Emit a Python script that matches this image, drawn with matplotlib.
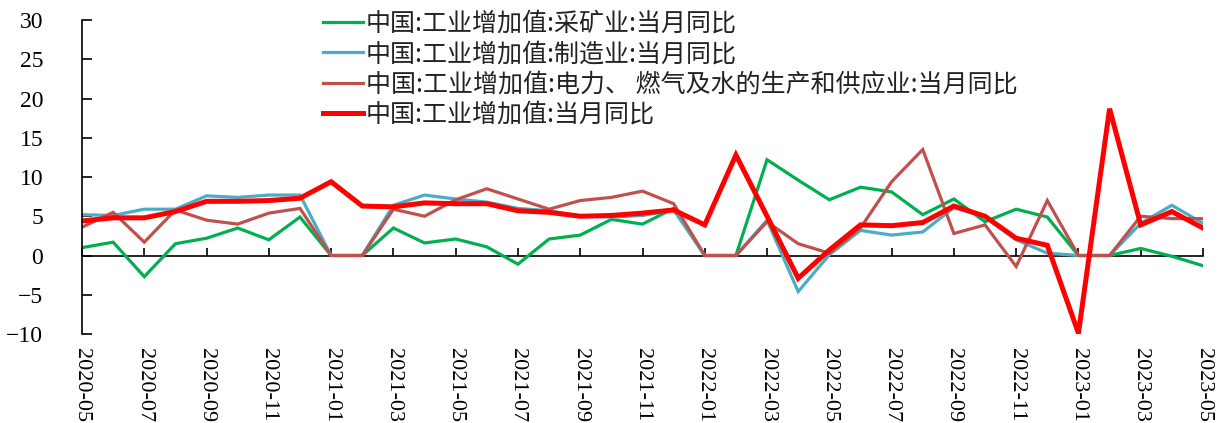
import matplotlib
matplotlib.use("Agg")
import matplotlib.pyplot as plt

months = ["2020-05", "2020-06", "2020-07", "2020-08", "2020-09", "2020-10", "2020-11", "2020-12",
          "2021-01", "2021-02", "2021-03", "2021-04", "2021-05", "2021-06", "2021-07", "2021-08",
          "2021-09", "2021-10", "2021-11", "2021-12", "2022-01", "2022-02", "2022-03", "2022-04",
          "2022-05", "2022-06", "2022-07", "2022-08", "2022-09", "2022-10", "2022-11", "2022-12",
          "2023-01", "2023-02", "2023-03", "2023-04", "2023-05"]

mining = [1.0, 1.7, -2.7, 1.5, 2.2, 3.5, 2.0, 4.9, 0.0, 0.0, 3.5, 1.6, 2.1, 1.1, -1.1, 2.1,
          2.6, 4.6, 4.0, 6.0, 0.0, 0.0, 12.2, 9.6, 7.1, 8.7, 8.1, 5.2, 7.2, 4.3, 5.9, 4.9,
          0.0, 0.0, 0.9, -0.1, -1.3]
manufacturing = [5.2, 5.1, 5.9, 5.9, 7.6, 7.4, 7.7, 7.7, 0.0, 0.0, 6.4, 7.7, 7.2, 6.8, 6.0, 5.7,
                 5.0, 4.9, 5.1, 5.8, 0.0, 0.0, 4.5, -4.6, 0.1, 3.2, 2.6, 3.0, 6.1, 4.9, 2.0, 0.3,
                 0.0, 0.0, 4.1, 6.4, 4.1]
utilities = [3.6, 5.5, 1.7, 5.8, 4.5, 4.0, 5.4, 6.0, 0.0, 0.0, 5.9, 5.0, 7.1, 8.5, 7.2, 5.9,
             7.0, 7.4, 8.2, 6.6, 0.0, 0.0, 4.3, 1.5, 0.3, 3.5, 9.4, 13.5, 2.8, 3.9, -1.4, 7.0,
             0.0, 0.0, 5.0, 4.7, 4.7]
total = [4.4, 4.8, 4.8, 5.6, 6.9, 6.9, 7.0, 7.3, 9.4, 6.3, 6.2, 6.7, 6.6, 6.6, 5.7, 5.5,
         5.0, 5.1, 5.4, 5.8, 3.9, 12.8, 5.0, -2.9, 0.7, 3.9, 3.8, 4.2, 6.3, 5.0, 2.2, 1.3,
         -9.9, 18.7, 3.9, 5.6, 3.5]

labels = ["中国:工业增加值:采矿业:当月同比",
          "中国:工业增加值:制造业:当月同比",
          "中国:工业增加值:电力、 燃气及水的生产和供应业:当月同比",
          "中国:工业增加值:当月同比"]
colors = ["#00B050", "#4BACC6", "#C0504D", "#FF0000"]
widths = [2.3, 2.3, 2.3, 3.6]

fig = plt.figure(figsize=(12.22, 4.23), dpi=100)
ax = fig.add_axes([82 / 1222, 1 - 334 / 423, (1203 - 82) / 1222, (334 - 20) / 423])

x = list(range(len(months)))
for series, lab, c, w in zip([mining, manufacturing, utilities, total], labels, colors, widths):
    ax.plot(x, series, color=c, lw=w, label=lab, solid_joinstyle="miter")

ax.set_xlim(0, len(months) - 1)
ax.set_ylim(-10, 30)
ax.set_yticks(range(-10, 31, 5))

serif = "Liberation Serif"
ax.tick_params(axis="y", direction="in", length=7, width=1.2, pad=28, labelsize=17)
for t in ax.get_yticklabels():
    t.set_fontfamily(serif)

ticks = x[::2]
ax.set_xticks(ticks)
ax.set_xticklabels([months[i] for i in ticks], rotation=-90, fontsize=16, fontfamily=serif)
ax.tick_params(axis="x", length=0, pad=10)

for s in ["top", "right", "bottom"]:
    ax.spines[s].set_visible(False)
ax.spines["left"].set_linewidth(1.2)

sec = ax.secondary_xaxis(0.25)
sec.set_xticks(ticks)
sec.set_xticklabels([])
sec.tick_params(axis="x", direction="in", length=6, width=1.2)
sec.spines["bottom"].set_linewidth(1.2)
for s in ["top", "left", "right"]:
    if s in sec.spines:
        sec.spines[s].set_visible(False)

leg = ax.legend(loc="upper left", bbox_to_anchor=(323 / 1222, 1 - 11 / 423),
                bbox_transform=fig.transFigure, frameon=False,
                prop={"family": ["Noto Sans CJK SC", "DejaVu Sans"], "size": 18},
                handlelength=1.6, handletextpad=0.12, labelspacing=0.17,
                borderpad=0, borderaxespad=0)
for t in leg.get_texts():
    t.set_color("#222222")

fig.savefig("out.png", dpi=100)
